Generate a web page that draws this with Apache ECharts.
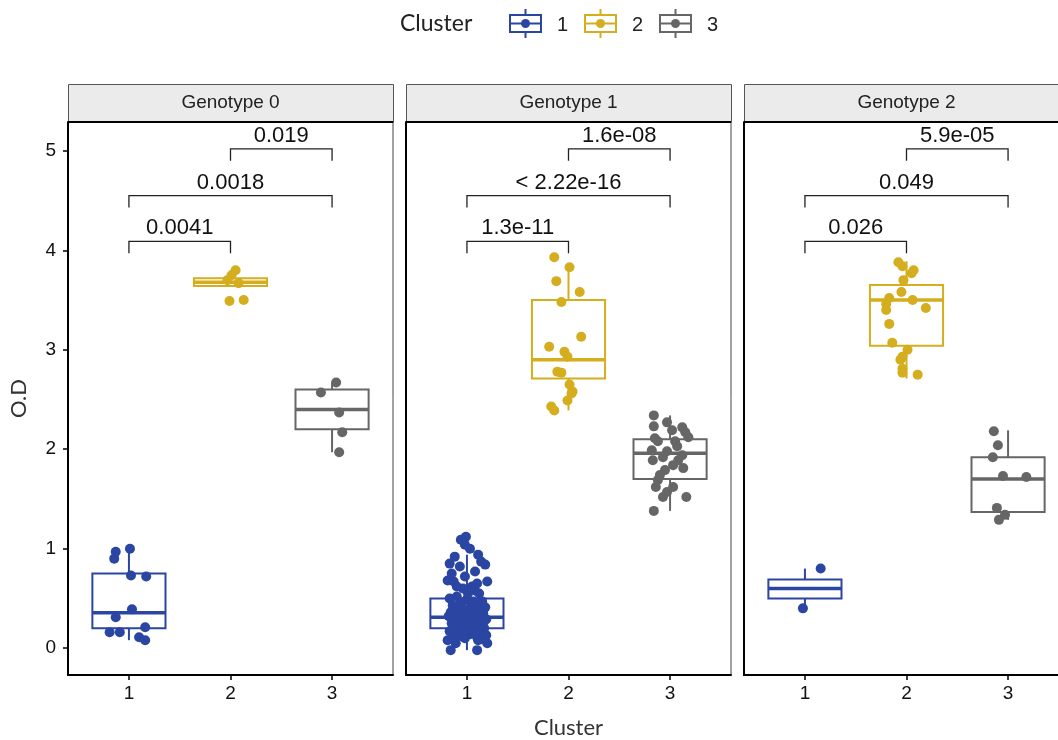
<!DOCTYPE html>
<html><head><meta charset="utf-8">
<script src="https://cdn.jsdelivr.net/npm/echarts@6/dist/echarts.min.js"></script>
<style>html,body{margin:0;padding:0;background:#fff}#c{width:1058px;height:740px}</style>
</head><body><div id="c"></div><script>
// ---------- data ----------
const genotypes = ['Genotype 0', 'Genotype 1', 'Genotype 2'];
const clusters = ['1', '2', '3'];
const clusterColors = ['#2B45A3', '#D4AE1E', '#666666'];
const yTicks = [0, 1, 2, 3, 4, 5];
const xTicks = [1, 2, 3];

// box stats [min, q1, median, q3, max] for clusters 1..3
const boxG0 = [[0.08, 0.20, 0.355, 0.75, 1.00], [3.64, 3.64, 3.68, 3.72, 3.80], [1.97, 2.20, 2.40, 2.60, 2.67]];
const boxG1 = [[-0.02, 0.20, 0.31, 0.50, 0.94], [2.39, 2.71, 2.90, 3.50, 3.84], [1.38, 1.70, 1.96, 2.10, 2.34]];
const boxG2 = [[0.40, 0.50, 0.60, 0.69, 0.80], [2.71, 3.04, 3.50, 3.65, 3.89], [1.29, 1.37, 1.70, 1.92, 2.19]];

// jittered points [jitter, O.D]
const ptsG0C1 = [[0.01,1.00],[-0.13,0.97],[-0.145,0.90],[0.02,0.73],[0.17,0.72],[0.03,0.39],[-0.13,0.31],[0.16,0.21],[-0.19,0.16],[-0.09,0.16],[0.10,0.11],[0.16,0.08]];
const ptsG0C2 = [[0.05,3.80],[0.01,3.75],[-0.03,3.70],[0.08,3.67],[-0.01,3.49],[0.13,3.50]];
const ptsG0C3 = [[0.04,2.67],[-0.11,2.57],[0.07,2.37],[0.10,2.17],[0.07,1.97]];
const ptsG1C1 = [[-0.01,1.12],[-0.06,1.09],[-0.02,1.04],[0.03,1.00],[0.11,0.94],[-0.12,0.92],[-0.17,0.85],[0.14,0.87],[-0.07,0.82],[0.18,0.84],
  [-0.19,0.68],[-0.13,0.67],[0.20,0.67],[-0.02,0.72],[0.08,0.77],[-0.15,0.75],[0.05,0.62],[0.08,0.58],[-0.17,0.50],[0.12,0.55],
  [-0.10,0.52],[0.00,0.49],[0.15,0.47],[-0.05,0.46],[0.10,0.44],[-0.14,0.43],[0.04,0.42],[0.18,0.41],[-0.08,0.40],[0.12,0.39],
  [-0.02,0.38],[0.07,0.37],[-0.16,0.36],[0.16,0.35],[-0.11,0.34],[0.02,0.34],[0.09,0.33],[-0.06,0.32],[0.13,0.31],[-0.13,0.30],
  [0.05,0.30],[0.19,0.29],[-0.03,0.28],[-0.09,0.27],[0.10,0.27],[0.00,0.26],[0.15,0.25],[-0.15,0.25],[0.06,0.24],[-0.06,0.23],
  [0.11,0.22],[-0.12,0.21],[0.02,0.21],[0.17,0.20],[-0.04,0.19],[0.08,0.18],[-0.17,0.17],[0.13,0.16],[-0.08,0.15],[0.03,0.14],
  [0.19,0.13],[-0.13,0.12],[0.10,0.11],[-0.02,0.10],[0.15,0.09],[-0.19,0.08],[-0.11,0.05],[-0.16,-0.02],[0.10,-0.02],[0.20,0.05],
  [0.11,0.08],[-0.07,0.44],[0.06,0.47],[-0.12,0.38],[0.14,0.36],[-0.01,0.31],[0.09,0.29],[-0.10,0.24],[0.04,0.18],[0.12,0.14],
  [-0.05,0.12],[-0.18,0.32],[0.17,0.27],[0.01,0.55],[-0.04,0.60],[0.10,0.65],[-0.10,0.62]];
const ptsG1C2 = [[-0.14,3.93],[0.01,3.83],[-0.12,3.69],[0.11,3.58],[-0.07,3.48],[0.125,3.13],[-0.19,3.03],[-0.04,2.98],[-0.01,2.93],
  [-0.11,2.78],[-0.07,2.77],[0.01,2.65],[0.04,2.58],[0.03,2.56],[-0.01,2.49],[-0.17,2.43],[-0.14,2.39]];
const ptsG1C3 = [[-0.16,2.34],[-0.03,2.27],[-0.16,2.23],[0.02,2.19],[0.12,2.22],[0.15,2.17],[0.18,2.12],[-0.15,2.11],[-0.12,2.08],[0.05,2.08],
  [-0.18,1.99],[-0.03,1.98],[0.12,1.94],[-0.17,1.89],[0.08,1.89],[0.03,1.84],[0.13,1.81],[-0.05,1.79],[-0.10,1.74],[-0.12,1.69],
  [-0.14,1.62],[0.03,1.62],[-0.03,1.57],[-0.07,1.52],[0.16,1.52],[-0.16,1.38],[0.07,2.03],[-0.07,1.92]];
const ptsG2C1 = [[0.155,0.80],[-0.02,0.40]];
const ptsG2C2 = [[-0.08,3.88],[-0.04,3.84],[0.07,3.80],[0.05,3.77],[-0.03,3.70],[-0.05,3.58],[-0.17,3.52],[0.06,3.50],[-0.20,3.46],[0.19,3.42],
  [-0.20,3.40],[-0.17,3.26],[-0.14,3.07],[0.01,3.00],[-0.04,2.93],[-0.06,2.90],[-0.04,2.81],[-0.04,2.77],[0.11,2.75]];
const ptsG2C3 = [[-0.14,2.18],[-0.10,2.04],[-0.15,1.92],[-0.05,1.73],[0.18,1.72],[-0.11,1.41],[-0.03,1.34],[-0.09,1.29]];

// significance brackets
const compPairs = [[1, 2], [1, 3], [2, 3]];
const compHeights = [4.09, 4.55, 5.02];
const pLabelsG0 = ['0.0041', '0.0018', '0.019'];
const pLabelsG1 = ['1.3e-11', '< 2.22e-16', '1.6e-08'];
const pLabelsG2 = ['0.026', '0.049', '5.9e-05'];

// ---------- assembly ----------
const boxes = [boxG0, boxG1, boxG2];
const points = [[ptsG0C1, ptsG0C2, ptsG0C3], [ptsG1C1, ptsG1C2, ptsG1C3], [ptsG2C1, ptsG2C2, ptsG2C3]];
const pLabels = [pLabelsG0, pLabelsG1, pLabelsG2];

const panelLeft = [68, 406, 744];
const panelWidth = 325;
const panelTop = 122, panelHeight = 553;
const stripTop = 84, stripHeight = 38;
const boxWidth = 0.72, tipLen = 0.12;
const fontMain = 'Liberation Sans, Arial, sans-serif';
const fontTitle = 'Lato, "Open Sans", sans-serif';

function renderBox(params, api) {
  const x = api.value(0);
  const lo = api.coord([x, api.value(1)]);
  const q1 = api.coord([x, api.value(2)]);
  const md = api.coord([x, api.value(3)]);
  const q3 = api.coord([x, api.value(4)]);
  const hi = api.coord([x, api.value(5)]);
  const w = api.size([boxWidth, 0])[0];
  const color = api.visual('color');
  return { type: 'group', children: [
    { type: 'line', shape: { x1: lo[0], y1: lo[1], x2: q1[0], y2: q1[1] }, style: { stroke: color, lineWidth: 2 } },
    { type: 'line', shape: { x1: q3[0], y1: q3[1], x2: hi[0], y2: hi[1] }, style: { stroke: color, lineWidth: 2 } },
    { type: 'rect', shape: { x: q1[0] - w / 2, y: q3[1], width: w, height: q1[1] - q3[1] }, style: { fill: '#fff', stroke: color, lineWidth: 2 } },
    { type: 'line', shape: { x1: md[0] - w / 2, y1: md[1], x2: md[0] + w / 2, y2: md[1] }, style: { stroke: color, lineWidth: 3.5 } }
  ]};
}

function makeBracketRenderer(labels) {
  return function (params, api) {
    const x1 = api.value(0), x2 = api.value(1), y = api.value(2);
    const a = api.coord([x1, y - tipLen]);
    const b = api.coord([x1, y]);
    const c = api.coord([x2, y]);
    const d = api.coord([x2, y - tipLen]);
    return { type: 'group', children: [
      { type: 'polyline', shape: { points: [a, b, c, d] }, style: { stroke: '#222', lineWidth: 1.3, fill: null } },
      { type: 'text', x: (b[0] + c[0]) / 2, y: b[1] - 2, style: { text: labels[params.dataIndex], fill: '#111', font: '22px ' + fontMain, textAlign: 'center', textVerticalAlign: 'bottom' } }
    ]};
  };
}

const grid = [], xAxis = [], yAxis = [], series = [], graphic = [];
genotypes.forEach((g, gi) => {
  grid.push({ left: panelLeft[gi], top: panelTop, width: panelWidth, height: panelHeight, show: true, borderColor: '#444', borderWidth: 1, backgroundColor: '#fff', containLabel: false, outerBoundsMode: 'none' });
  xAxis.push({
    type: 'value', gridIndex: gi, min: 0.4, max: 3.6,
    splitLine: { show: false },
    axisLine: { show: true, onZero: false, lineStyle: { color: '#000', width: 2 } },
    axisTick: { show: true, length: 5, customValues: xTicks, lineStyle: { color: '#000', width: 1.5 } },
    axisLabel: { customValues: xTicks, fontSize: 19, color: '#111', fontFamily: fontMain, margin: 9 },
    name: gi === 1 ? 'Cluster' : '', nameLocation: 'middle', nameGap: 42,
    nameTextStyle: { fontSize: 22, color: '#333', fontFamily: fontTitle }
  });
  yAxis.push({
    type: 'value', gridIndex: gi, min: -0.27, max: 5.29,
    splitLine: { show: false },
    axisLine: { show: true, onZero: false, lineStyle: { color: '#000', width: 2 } },
    axisTick: { show: gi === 0, length: 5, customValues: yTicks, lineStyle: { color: '#000', width: 1.5 } },
    axisLabel: { show: gi === 0, customValues: yTicks, fontSize: 19, color: '#111', fontFamily: fontMain, margin: 12 },
    name: gi === 0 ? 'O.D' : '', nameLocation: 'middle', nameGap: 38, nameRotate: 90,
    nameTextStyle: { fontSize: 22, color: '#333', fontFamily: fontTitle }
  });
  series.push({
    type: 'custom', xAxisIndex: gi, yAxisIndex: gi, z: 2, renderItem: renderBox,
    encode: { x: 0, y: [1, 2, 3, 4, 5] },
    data: boxes[gi].map((s, ci) => ({ value: [ci + 1].concat(s), itemStyle: { color: clusterColors[ci] } }))
  });
  points[gi].forEach((pts, ci) => {
    series.push({
      type: 'scatter', name: clusters[ci], xAxisIndex: gi, yAxisIndex: gi, z: 3,
      symbolSize: 10, itemStyle: { color: clusterColors[ci], opacity: 1 },
      data: pts.map(p => [ci + 1 + p[0], p[1]])
    });
  });
  series.push({
    type: 'custom', xAxisIndex: gi, yAxisIndex: gi, z: 4, renderItem: makeBracketRenderer(pLabels[gi]),
    encode: { x: [0, 1], y: 2 },
    data: compPairs.map((p, k) => [p[0], p[1], compHeights[k]])
  });
  graphic.push({ type: 'rect', left: panelLeft[gi], top: stripTop, shape: { width: panelWidth, height: stripHeight },
    style: { fill: '#EBEBEB', stroke: '#555', lineWidth: 1 } });
  graphic.push({ type: 'line', shape: { x1: panelLeft[gi], y1: stripTop + stripHeight, x2: panelLeft[gi] + panelWidth, y2: stripTop + stripHeight },
    style: { stroke: '#000', lineWidth: 2 } });
  graphic.push({ type: 'text', x: panelLeft[gi] + panelWidth / 2, y: stripTop + stripHeight / 2,
    style: { text: g, font: '19px ' + fontMain, fill: '#222', textAlign: 'center', textVerticalAlign: 'middle' } });
});

// legend
const legendX = [510, 585, 660];
graphic.push({ type: 'text', x: 400, y: 24, style: { text: 'Cluster', font: '23px ' + fontTitle, fill: '#222', textVerticalAlign: 'middle' } });
clusters.forEach((c, ci) => {
  const x = legendX[ci], col = clusterColors[ci];
  graphic.push({ type: 'group', children: [
    { type: 'line', shape: { x1: x + 15.5, y1: 9, x2: x + 15.5, y2: 38 }, style: { stroke: col, lineWidth: 2 } },
    { type: 'rect', shape: { x: x, y: 15, width: 31, height: 17 }, style: { fill: '#fff', stroke: col, lineWidth: 2 } },
    { type: 'line', shape: { x1: x, y1: 23.5, x2: x + 31, y2: 23.5 }, style: { stroke: col, lineWidth: 2 } },
    { type: 'circle', shape: { cx: x + 15.5, cy: 23.5, r: 4.5 }, style: { fill: col } },
    { type: 'text', x: x + 47, y: 25, style: { text: c, font: '20px ' + fontMain, fill: '#222', textVerticalAlign: 'middle' } }
  ]});
});

const chart = echarts.init(document.getElementById('c'), null, { renderer: 'canvas' });
chart.setOption({ animation: false, backgroundColor: '#fff', grid, xAxis, yAxis, series, graphic });
</script></body></html>
